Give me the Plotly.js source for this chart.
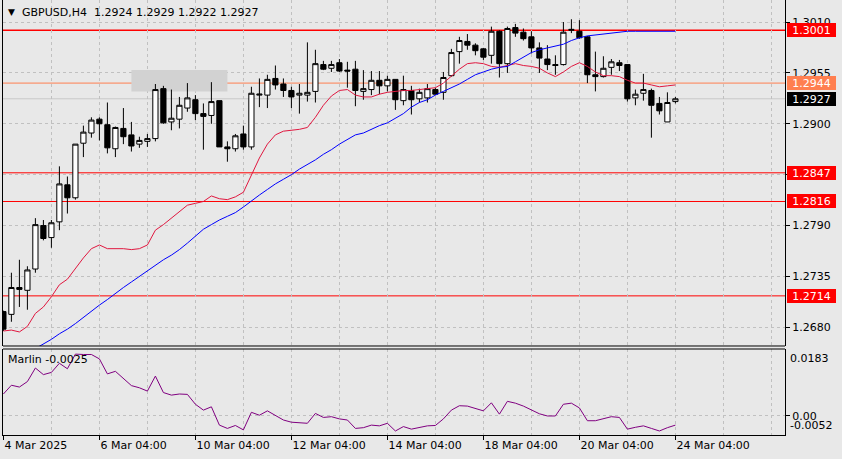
<!DOCTYPE html>
<html><head><meta charset="utf-8">
<script src="https://cdn.plot.ly/plotly-3.0.1.min.js"></script>
<style>html,body{margin:0;padding:0;background:#e8e8e8}#chart{width:842px;height:459px}</style>
</head><body><div id="chart"></div><script>
// ---- data ----
const symbolName = 'GBPUSD,H4';
const barIndex = [0,1,2,3,4,5,6,7,8,9,10,11,12,13,14,15,16,17,18,19,20,21,22,23,24,25,26,27,28,29,30,31,32,33,34,35,36,37,38,39,40,41,42,43,44,45,46,47,48,49,50,51,52,53,54,55,56,57,58,59,60,61,62,63,64,65,66,67,68,69,70,71,72,73,74,75,76,77,78,79,80,81,82,83,84];
const openP = [1.2697,1.2694,1.2723,1.2720,1.2743,1.2790,1.2777,1.2794,1.2834,1.2820,1.2879,1.2890,1.2905,1.2899,1.2873,1.2895,1.2888,1.2878,1.2881,1.2884,1.2938,1.2902,1.2905,1.2917,1.2926,1.2911,1.2909,1.2925,1.2875,1.2873,1.2889,1.2875,1.2931,1.2931,1.2949,1.2943,1.2936,1.2931,1.2931,1.2935,1.2964,1.2960,1.2966,1.2958,1.2959,1.2935,1.2937,1.2947,1.2941,1.2948,1.2925,1.2936,1.2927,1.2928,1.2937,1.2934,1.2952,1.2978,1.2989,1.2985,1.2981,1.2974,1.3000,1.2965,1.3004,1.2999,1.2994,1.2982,1.2970,1.2964,1.2964,1.3001,1.3000,1.2994,1.2953,1.2951,1.2961,1.2966,1.2964,1.2928,1.2933,1.2936,1.2922,1.2902,1.2924];
const highP = [1.2698,1.2739,1.2753,1.2746,1.2798,1.2796,1.2796,1.2854,1.2843,1.2878,1.2898,1.2907,1.2907,1.2923,1.2897,1.2917,1.2902,1.2886,1.2889,1.2943,1.2941,1.2937,1.2929,1.2944,1.2931,1.2922,1.2945,1.2925,1.2881,1.2889,1.2898,1.2940,1.2949,1.2953,1.2963,1.2949,1.2940,1.2943,1.2988,1.2980,1.2968,1.2968,1.2970,1.2967,1.2968,1.2958,1.2957,1.2957,1.2952,1.2948,1.2952,1.2941,1.2938,1.2943,1.2939,1.2956,1.2981,1.2994,1.2997,1.2987,1.2982,1.3005,1.3001,1.3005,1.3008,1.3003,1.3000,1.2988,1.2985,1.2974,1.3010,1.3013,1.3012,1.2995,1.2978,1.2973,1.2970,1.2969,1.2964,1.2937,1.2954,1.2938,1.2929,1.2934,1.2929];
const lowP = [1.2676,1.2686,1.2702,1.2699,1.2739,1.2774,1.2766,1.2785,1.2803,1.2818,1.2864,1.2885,1.2882,1.2868,1.2864,1.2878,1.2870,1.2874,1.2875,1.2881,1.2900,1.2893,1.2895,1.2913,1.2904,1.2872,1.2900,1.2875,1.2859,1.2870,1.2872,1.2872,1.2918,1.2917,1.2937,1.2929,1.2917,1.2911,1.2924,1.2923,1.2958,1.2956,1.2956,1.2939,1.2919,1.2926,1.2931,1.2932,1.2935,1.2915,1.2920,1.2910,1.2923,1.2923,1.2931,1.2926,1.2951,1.2965,1.2980,1.2974,1.2969,1.2965,1.2950,1.2955,1.2994,1.2990,1.2976,1.2955,1.2958,1.2953,1.2963,1.2998,1.2992,1.2944,1.2935,1.2950,1.2953,1.2957,1.2924,1.2920,1.2925,1.2885,1.2910,1.2902,1.2922];
const closeP = [1.2678,1.2723,1.2721,1.2742,1.2791,1.2776,1.2793,1.2835,1.2820,1.2878,1.2891,1.2904,1.2900,1.2874,1.2896,1.2886,1.2876,1.2882,1.2884,1.2937,1.2901,1.2906,1.2920,1.2928,1.2911,1.2908,1.2924,1.2875,1.2873,1.2887,1.2875,1.2933,1.2932,1.2948,1.2942,1.2936,1.2929,1.2933,1.2934,1.2965,1.2959,1.2964,1.2957,1.2957,1.2936,1.2938,1.2947,1.2941,1.2948,1.2926,1.2937,1.2926,1.2934,1.2938,1.2932,1.2950,1.2977,1.2990,1.2985,1.2979,1.2972,1.3000,1.2965,1.3003,1.2998,1.2992,1.2982,1.2971,1.2964,1.2963,1.2999,1.3002,1.2993,1.2953,1.2951,1.2960,1.2967,1.2963,1.2927,1.2932,1.2937,1.2920,1.2914,1.2923,1.2927];
const maFast = [1.2676,1.2677,1.2675,1.2681,1.2695,1.2702,1.2713,1.2726,1.2732,1.2744,1.2755,1.2765,1.2769,1.2765,1.2765,1.2765,1.2764,1.2765,1.2769,1.2785,1.2791,1.2798,1.2804,1.2812,1.2814,1.2816,1.2822,1.2819,1.2818,1.2821,1.2826,1.2844,1.2863,1.2878,1.2888,1.2892,1.2893,1.2894,1.2896,1.2907,1.2920,1.2930,1.2936,1.2937,1.2931,1.2929,1.2929,1.2932,1.2934,1.2935,1.2936,1.2936,1.2937,1.2938,1.2939,1.2944,1.2952,1.2959,1.2965,1.2966,1.2965,1.2962,1.2961,1.2963,1.2965,1.2963,1.2962,1.2960,1.2955,1.2951,1.2956,1.2962,1.2966,1.2962,1.2956,1.2952,1.2952,1.2951,1.2947,1.2944,1.2944,1.2942,1.2940,1.2941,1.2942];
const maSlow = [null,null,null,null,1.2657,1.2662,1.2667,1.2673,1.2678,1.2684,1.2691,1.2698,1.2704,1.2710,1.2717,1.2723,1.2729,1.2735,1.2741,1.2747,1.2753,1.2758,1.2764,1.2771,1.2778,1.2786,1.2791,1.2796,1.2800,1.2804,1.2810,1.2817,1.2823,1.2829,1.2835,1.2840,1.2845,1.2851,1.2856,1.2861,1.2867,1.2872,1.2878,1.2883,1.2888,1.2890,1.2894,1.2898,1.2901,1.2906,1.2911,1.2918,1.2923,1.2926,1.2931,1.2935,1.2939,1.2943,1.2948,1.2953,1.2956,1.2959,1.2961,1.2962,1.2967,1.2972,1.2977,1.2980,1.2982,1.2984,1.2986,1.2990,1.2993,1.2995,1.2996,1.2997,1.2998,1.2999,1.3000,1.3000,1.3000,1.3000,1.3000,1.3000,1.3000];
const marlin = [0.0060,0.0084,0.0079,0.0094,0.0131,0.0113,0.0119,0.0144,0.0129,0.0169,0.0168,0.0168,0.0156,0.0115,0.0122,0.0103,0.0083,0.0077,0.0068,0.0109,0.0064,0.0057,0.0060,0.0059,0.0032,0.0016,0.0025,-0.0025,-0.0034,-0.0026,-0.0038,0.0010,0.0002,0.0014,0.0001,-0.0011,-0.0017,-0.0018,-0.0020,0.0007,-0.0004,-0.0002,-0.0008,-0.0011,-0.0034,-0.0032,-0.0025,-0.0027,-0.0020,-0.0041,-0.0029,-0.0036,-0.0032,-0.0027,-0.0026,-0.0008,0.0016,0.0028,0.0027,0.0021,0.0014,0.0036,0.0005,0.0040,0.0035,0.0027,0.0017,0.0006,0.0000,0.0000,0.0032,0.0035,0.0022,-0.0013,-0.0013,-0.0007,-0.0002,-0.0004,-0.0036,-0.0031,-0.0027,-0.0034,-0.0041,-0.0032,-0.0025];
const timeTickIdx = [0,12,24,36,48,60,72,84];
const timeTickLabels = ['4 Mar 2025','6 Mar 04:00','10 Mar 04:00','12 Mar 04:00','14 Mar 04:00','18 Mar 04:00','20 Mar 04:00','24 Mar 04:00'];
const timeGridIdx = [6,18,30,42,54,66,78,90,96];
const priceTicks = [1.3010,1.2955,1.2900,1.2845,1.2790,1.2735,1.2680];
const priceTickText = ['1.3010','1.2955','1.2900','','1.2790','1.2735','1.2680'];
const levelPrices = [1.3001,1.2944,1.2927,1.2847,1.2816,1.2714];
const zoneBars = [16,28];
const zonePrices = [1.2935,1.2958];
const marlinMax = 0.0183, marlinMin = -0.0052;

// ---- styles ----
const levelLineColors = ['#ff0000','#ff7f50','#c8c8c8','#ff0000','#ff0000','#ff0000'];
const levelLineWidths = [1.5,1,1,1,1,1];
const levelBoxColors = ['#ff0000','#ff7f50','#000000','#ff0000','#ff0000','#ff0000'];
const FONT = 'DejaVu Sans, sans-serif';
const GRID = '#c0c0c0';
const DASH = '3px,3px';
const MAIN_DOMAIN = [0.2046, 1];
const SUB_DOMAIN = [0, 0.1977];

const last = closeP.length - 1;

const traces = [
  {type:'candlestick', x:barIndex, open:openP, high:highP, low:lowP, close:closeP,
   xaxis:'x', yaxis:'y', whiskerwidth:0,
   increasing:{line:{color:'#000',width:1}, fillcolor:'#ffffff'},
   decreasing:{line:{color:'#000',width:1}, fillcolor:'#000000'},
   hoverinfo:'skip'},
  {type:'scatter', mode:'lines', x:barIndex, y:maFast, line:{color:'#e0173f',width:1}, xaxis:'x', yaxis:'y', hoverinfo:'skip'},
  {type:'scatter', mode:'lines', x:barIndex, y:maSlow, line:{color:'#0000ff',width:1}, xaxis:'x', yaxis:'y', hoverinfo:'skip', connectgaps:false},
  {type:'scatter', mode:'lines', x:barIndex, y:marlin, line:{color:'#800080',width:1}, xaxis:'x', yaxis:'y2', hoverinfo:'skip'}
];

const shapes = [];
shapes.push({type:'rect', xref:'x', yref:'y', x0:zoneBars[0], x1:zoneBars[1], y0:zonePrices[0], y1:zonePrices[1],
  fillcolor:'#d2d2d2', line:{width:0}, layer:'between'});
levelPrices.forEach((p,k)=>{
  shapes.push({type:'line', xref:'paper', yref:'y', x0:0, x1:1, y0:p, y1:p,
    line:{color:levelLineColors[k], width:levelLineWidths[k]}, layer:'between'});
});
// panel separators (bottom of main panel, top of indicator panel)
shapes.push({type:'line', xref:'paper', yref:'paper', x0:0, x1:1, y0:MAIN_DOMAIN[0], y1:MAIN_DOMAIN[0], line:{color:'#000',width:1}, layer:'above'});
shapes.push({type:'line', xref:'paper', yref:'paper', x0:0, x1:1, y0:SUB_DOMAIN[1], y1:SUB_DOMAIN[1], line:{color:'#000',width:1}, layer:'above'});

const annotations = [];
levelPrices.forEach((p,k)=>{
  annotations.push({xref:'paper', yref:'y', x:1, y:p, xanchor:'left', yanchor:'middle', xshift:2,
    text:p.toFixed(4), showarrow:false, bgcolor:levelBoxColors[k], font:{family:FONT,size:11,color:'#ffffff'},
    width:45, height:10, borderpad:1, borderwidth:1, bordercolor:levelBoxColors[k], align:'center'});
});
annotations.push({xref:'paper', yref:'paper', x:0, y:1, xanchor:'center', yanchor:'middle', xshift:8.5, yshift:-12,
  text:'▼', showarrow:false, font:{family:FONT,size:9,color:'#000'}});
annotations.push({xref:'paper', yref:'paper', x:0, y:1, xanchor:'left', yanchor:'middle', xshift:17, yshift:-12,
  text:symbolName + '&nbsp;&nbsp;' + [openP[last],highP[last],lowP[last],closeP[last]].map(v=>v.toFixed(4)).join(' '),
  showarrow:false, font:{family:FONT,size:11,color:'#000'}});
annotations.push({xref:'paper', yref:'y2', x:0, y:marlinMax, xanchor:'left', yanchor:'middle', xshift:3, yshift:-10,
  text:'Marlin ' + marlin[last].toFixed(4), showarrow:false, font:{family:FONT,size:11,color:'#000'}});
annotations.push({xref:'paper', yref:'y2', x:1, y:marlinMax, xanchor:'left', yanchor:'top', xshift:3, yshift:-1,
  text:marlinMax.toFixed(4), showarrow:false, font:{family:FONT,size:11,color:'#000'}});
annotations.push({xref:'paper', yref:'y2', x:1, y:marlinMin, xanchor:'left', yanchor:'bottom', xshift:3, yshift:1,
  text:marlinMin.toFixed(4), showarrow:false, font:{family:FONT,size:11,color:'#000'}});

const layout = {
  width:842, height:459,
  margin:{l:3, r:57, t:0, b:24, pad:0},
  paper_bgcolor:'#e8e8e8', plot_bgcolor:'#e8e8e8',
  font:{family:FONT, size:11, color:'#000'},
  showlegend:false, hovermode:false, dragmode:false,
  boxgap:0.35, boxgroupgap:0,
  xaxis:{range:[-0.05,97.7], anchor:'y2', tickmode:'array', tickvals:timeTickIdx, ticktext:timeTickLabels,
    ticklabelposition:'outside right', ticks:'outside', ticklen:4, tickcolor:'#000', tickfont:{family:FONT,size:11,color:'#000'},
    showgrid:true, gridcolor:GRID, griddash:DASH, gridwidth:1,
    minor:{tickmode:'array', tickvals:timeGridIdx, showgrid:true, gridcolor:GRID, griddash:DASH, gridwidth:1, ticks:''},
    showline:true, mirror:false, linecolor:'#000', linewidth:1, zeroline:false,
    rangeslider:{visible:false}, fixedrange:true},
  yaxis:{domain:MAIN_DOMAIN, range:[1.26598,1.30338], side:'right', anchor:'x', tickmode:'array',
    tickvals:priceTicks, ticktext:priceTickText, ticks:'outside', ticklen:4, tickcolor:'#000',
    tickfont:{family:FONT,size:11,color:'#000'},
    showgrid:true, gridcolor:GRID, griddash:DASH, gridwidth:1,
    showline:true, mirror:true, linecolor:'#000', linewidth:1, zeroline:false, fixedrange:true},
  yaxis2:{domain:SUB_DOMAIN, range:[marlinMin,marlinMax], side:'right', anchor:'x', tickmode:'array',
    tickvals:[0], ticktext:['0.00'], ticks:'outside', ticklen:4, tickcolor:'#000',
    tickfont:{family:FONT,size:11,color:'#000'},
    showgrid:true, gridcolor:GRID, griddash:DASH, gridwidth:1,
    showline:true, mirror:true, linecolor:'#000', linewidth:1, zeroline:false, fixedrange:true},
  shapes:shapes, annotations:annotations
};

Plotly.newPlot('chart', traces, layout, {displayModeBar:false, staticPlot:true});
</script></body></html>
